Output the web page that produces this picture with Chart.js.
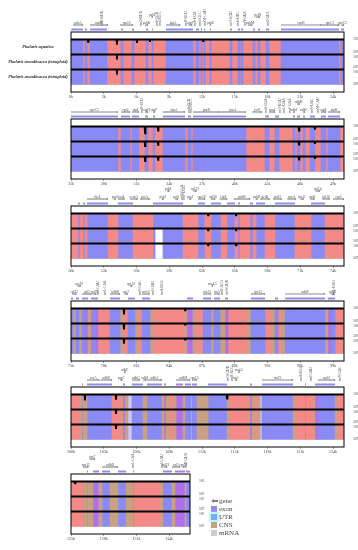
<!DOCTYPE html>
<html>
<head>
<meta charset="utf-8">
<title>mVISTA Phalaris</title>
<script src="https://cdn.jsdelivr.net/npm/chart.js@4.4.1/dist/chart.umd.min.js"></script>
<style>
  body { margin: 0; width: 358px; height: 550px; background: #fff; position: relative; overflow: hidden; }
  canvas { position: absolute; left: 0; }
  #legend { position: absolute; left: 211px; top: 497px; font: 7px 'Liberation Serif', serif; color: #444; }
  #legend .item { height: 8px; line-height: 8px; display: flex; align-items: center; }
  #legend .sw { width: 6px; height: 6px; margin-right: 2px; }
  #legend .gene { display: flex; align-items: center; width: 7px; margin-right: 1px; }
  #legend .tri { width: 0; height: 0; border-right: 3px solid #858585; border-top: 2.5px solid transparent; border-bottom: 2.5px solid transparent; }
  #legend .shaft { width: 4px; height: 2px; background: #858585; }
</style>
</head>
<body>
<canvas id="p1"></canvas>
<canvas id="p2"></canvas>
<canvas id="p3"></canvas>
<canvas id="p4"></canvas>
<canvas id="p5"></canvas>
<canvas id="p6"></canvas>
<div id="legend"></div>
<script>
// ---- data (kb) ----
const rowNames = ['Phalaris aquatica', 'Phalaris arundinacea (tetraploid)', 'Phalaris arundinacea (tetraploid)'];
const pctLabels = { 3: '100%', 2: ['50%', '100%'], 1: ['50%', '100%'], 0: '50%' };

// E exon, C CNS, T tan, P purple, L light
const p1Edges = [0, 1.10, 1.28, 1.47, 1.74, 3.30, 4.58, 4.76, 5.59, 5.77, 6.87, 7.05, 7.42, 7.51, 8.70, 11.17, 11.45, 11.72, 11.90, 12.00,
  12.18, 12.27, 12.73, 12.82, 14.56, 14.74, 15.29, 15.48, 15.57, 15.75, 16.67, 16.85, 17.12, 17.31, 17.86, 18.13, 19.23, 24.54, 24.73, 25.00];
const p1Types = 'ECECECECEC' + 'ECECECECEC' + 'ECECECECEC' + 'ECECECECE';

const p2Edges = [25, 29.30, 29.58, 30.40, 30.59, 31.23, 31.78, 32.05, 32.51, 32.69, 33.42, 35.44, 35.71, 35.99, 36.17, 41.03, 42.77,
  43.13, 43.68, 44.05, 45.33, 45.51, 45.70, 45.97, 46.25, 46.43, 46.89, 47.34, 47.89, 48.35, 48.53, 49.63, 50];
const p2Types = 'ECECECECEC' + 'ECECECECEC' + 'ECECECECEC' + 'EC';

const p3Edges = [50, 50.64, 50.82, 51.10, 51.28, 51.47, 53.39, 54.30, 55.68, 57.51, 60.26, 61.63, 62.27, 62.82, 63.74, 64.29, 65.02,
  65.29, 65.48, 66.39, 66.67, 66.94, 67.77, 68.68, 70.51, 71.98, 73.26, 75];
const p3Types = 'CECECECECE' + 'CECECECECE' + 'CECECEC';
const p3GapFrom = [57.76];
const p3GapTo = [58.36];

const p4Edges = [75.00, 75.18, 75.46, 75.73, 76.01, 76.28, 76.56, 76.83, 77.01, 77.29, 77.47, 78.57, 79.49, 79.76, 80.22, 80.86, 81.14,
  81.50, 82.23, 82.51, 85.44, 85.62, 86.17, 86.45, 87.09, 87.82, 88.10, 88.64, 89.10, 89.38, 91.21, 91.48, 92.77, 93.32, 93.68, 93.96,
  94.23, 94.60, 98.26, 98.53, 98.81, 99.18, 100.00];
const p4Types = 'ETETEPTPEP' + 'CETCETCETC' + 'TPTCETETPC' + 'TECTECTETP' + 'EC';

const p5Edges = [100, 100.73, 101.01, 101.10, 101.47, 103.75, 104.58, 104.76, 104.95, 105.22, 105.59, 106.59, 106.96, 108.33, 108.52,
  108.70, 109.07, 109.34, 109.62, 110.26, 110.44, 110.99, 111.08, 111.54, 112.55, 114.29, 114.56, 116.21, 116.39, 116.58, 116.85,
  117.03, 117.31, 117.49, 120.33, 120.60, 121.43, 121.52, 122.16, 122.34, 122.62, 124.18, 124.45, 125];
const p5Types = 'CTPTECTPTL' + 'ETETPTCTPT' + 'ELETETCTPT' + 'CTLETCPCTP' + 'ETC';

const p6Edges = [125, 126.10, 126.47, 126.56, 127.01, 127.56, 127.84, 128.57, 129.30, 130.04, 130.68, 130.77, 133.15, 133.42, 133.52,
  134.25, 134.52, 135.44, 135.53, 135.90];
const p6Types = 'CTPTPTETET' + 'PCTPETPTE';

const p1Ticks = [0, 3, 6, 9, 12, 15, 18, 21, 24];
const p2Ticks = [25, 28, 31, 34, 37, 40, 43, 46, 49];
const p3Ticks = [50, 53, 56, 59, 62, 65, 68, 71, 74];
const p4Ticks = [75, 78, 81, 84, 87, 90, 93, 96, 99];
const p5Ticks = [100, 103, 106, 109, 112, 115, 118, 121, 124];
const p6Ticks = [125, 128, 131, 134];

// curve dips: position (kb) and depth per row (fraction of row height)
const p1DipAt = [1.56, 4.21, 6.04, 7.23, 12.09];
const p1DipDepth = [[0.15, 0, 0], [0.35, 0.08, 0.08], [0.22, 0, 0], [0.15, 0, 0], [0.1, 0, 0]];
const p2DipAt = [31.78, 32.97, 45.88, 47.34];
const p2DipDepth = [[0.45, 0.3, 0.3], [0.28, 0.22, 0.22], [0.28, 0.2, 0.2], [0.2, 0.15, 0.15]];
const p3DipAt = [62.55, 65.11];
const p3DipDepth = [[0.12, 0.12, 0.12], [0.12, 0.12, 0.12]];
const p4DipAt = [79.85, 85.44];
const p4DipDepth = [[0.4, 0.4, 0.35], [0.12, 0.08, 0.08]];
const p5DipAt = [101.28, 104.12, 114.29];
const p5DipDepth = [[0.4, 0, 0], [0.35, 0.3, 0.3], [0.28, 0, 0]];
const p6DipAt = [125.37];
const p6DipDepth = [[0.12, 0, 0]];

// gene annotation
const p1GeneNames = ['psbA', 'trnK-UUU', 'matK', 'rps16', 'trnQ-UUG', 'psbK', 'psbI', 'trnS-GCU', 'trnG-UCC', 'atpA', 'trnR-UCU', 'atpF',
  'trnS-UGA', 'trnG-GCC', 'trnfM-CAU', 'psbZ', 'trnT-GGU', 'trnE-UUC', 'trnY-GUA', 'psbM', 'petN', 'trnD-GUC', 'rpoB', 'rpoC1', 'rpoC2'];
const p1GeneFrom = [0.18, 1.56, 1.74, 4.49, 6.32, 6.78, 7.35, 7.85, 8.10, 8.70, 10.50, 10.75, 11.33, 11.78, 12.24, 12.73, 14.62, 15.26,
  15.90, 16.20, 16.90, 18.01, 19.23, 22.90, 24.73];
const p1GeneTo = [1.10, 4.03, 3.39, 5.68, 6.40, 7.05, 7.50, 7.92, 8.18, 10.00, 10.56, 11.10, 11.39, 11.84, 12.30, 12.82, 14.68, 15.32,
  15.96, 16.60, 17.30, 18.07, 22.90, 24.54, 25.00];

const p2GeneNames = ['rpoC2', 'rps2', 'atpI', 'trnR-UCU', 'atpH', 'atpF', 'atpA', 'trnS-GCU', 'trnG-UCC', 'psaB', 'psaA', 'ycf3',
  'trnS-GGA', 'rps4', 'trnT-UGU', 'trnL-UAA', 'trnF-GAA', 'ndhJ', 'ndhK', 'ndhC', 'trnV-UAC', 'trnM-CAU', 'atpE', 'atpB'];
const p2GeneFrom = [25.0, 29.58, 30.59, 31.45, 31.78, 32.51, 33.42, 35.75, 35.95, 36.17, 38.60, 41.60, 42.80, 43.13, 44.10, 44.50, 45.05,
  45.33, 45.70, 46.25, 47.00, 47.60, 47.89, 48.53];
const p2GeneTo = [29.30, 30.40, 31.23, 31.50, 32.05, 32.69, 35.44, 35.80, 36.00, 38.60, 41.03, 42.50, 42.85, 43.68, 44.15, 44.55, 45.10,
  45.51, 45.97, 46.43, 47.05, 47.65, 48.35, 49.63];

const p3GeneNames = ['rbcL', 'psaI', 'ycf4', 'cemA', 'petA', 'psbJ', 'psbE', 'petL', 'trnW-CCA', 'trnP-UGG', 'psaJ', 'rpl33', 'rps18',
  'rpl20', 'clpP', 'psbB', 'psbH', 'petB', 'petD', 'rpoA', 'rps11', 'rps8', 'rpl14', 'rpl16', 'rps3'];
const p3GeneFrom = [51.47, 53.90, 54.30, 55.40, 56.30, 58.30, 58.80, 59.50, 60.10, 60.35, 60.80, 61.20, 61.63, 62.82, 63.60, 64.90,
  66.90, 67.30, 68.50, 69.80, 71.00, 71.90, 72.40, 73.00, 74.00];
const p3GeneTo = [53.39, 54.10, 54.90, 56.10, 57.20, 58.50, 59.00, 59.80, 60.15, 60.40, 61.00, 61.50, 62.27, 63.20, 64.30, 66.40,
  67.10, 68.20, 69.30, 70.60, 71.30, 72.30, 72.80, 73.70, 75.00];

const p4GeneNames = ['rpl22', 'rps19', 'rpl2', 'rpl23', 'trnI-CAU', 'trnL-CAA', 'ndhB', 'rps7', 'rps12', 'trnV-GAC', 'rrn16',
  'trnI-GAU', 'trnA-UGC', 'rrn23', 'rrn4.5', 'rrn5', 'trnR-ACG', 'trnN-GUU', 'rps15', 'ndhF', 'rpl32', 'trnL-UAG'];
const p4GeneFrom = [75.10, 75.60, 76.00, 77.00, 77.40, 78.10, 78.57, 79.90, 80.40, 81.30, 81.50, 82.50, 83.30, 87.09, 87.90, 88.10,
  88.80, 89.20, 91.48, 94.60, 98.81, 99.00];
const p4GeneTo = [75.50, 75.90, 76.90, 77.30, 77.45, 78.15, 79.49, 80.20, 80.60, 81.35, 82.20, 82.55, 83.35, 87.82, 88.00, 88.60,
  88.85, 89.25, 92.77, 98.26, 99.10, 99.05];

const p5GeneNames = ['ccsA', 'ndhD', 'psaC', 'ndhE', 'ndhG', 'ndhI', 'ndhA', 'ndhH', 'rps15', 'trnN-GUU', 'trnR-ACG', 'rrn5',
  'rrn4.5', 'rrn23', 'trnA-UGC', 'trnI-GAU', 'rrn16', 'trnV-GAC'];
const p5GeneFrom = [101.47, 102.70, 104.50, 104.85, 105.59, 106.60, 106.96, 109.62, 111.08, 114.30, 114.70, 115.00, 115.30, 117.49,
  121.00, 121.90, 122.62, 124.60];
const p5GeneTo = [102.60, 103.75, 104.70, 105.00, 106.30, 106.90, 108.33, 110.90, 111.54, 114.35, 114.75, 115.20, 115.45, 120.33,
  121.05, 121.95, 124.18, 124.65];

const p6GeneNames = ['rps12', 'rps7', 'ndhB', 'trnL-CAA', 'trnI-CAU', 'rpl23', 'rpl2', 'rps19', 'trnH-GUG'];
const p6GeneFrom = [126.10, 126.70, 127.84, 130.68, 133.30, 133.52, 134.25, 135.20, 135.50];
const p6GeneTo = [126.60, 127.20, 129.30, 130.73, 133.35, 133.80, 135.00, 135.40, 135.55];

const legendNames = ['gene', 'exon', 'UTR', 'CNS', 'mRNA'];

// ---- styles ----
const COLORS = { E: '#8a8af4', C: '#f48a88', T: '#c8a183', P: '#b070ec', L: '#cacaf4' };
const STRIP = { E: '#8e8ef2', P: '#b27aee' };
const LEGEND_COLORS = { exon: '#908cf0', UTR: '#7ea8f8', CNS: '#c4a284', mRNA: '#cdcdcd' };
const ROW_Y = [2.5, 1.5, 0.5];
const SERIF = '"Liberation Serif", serif';

const panels = [
  { id: 'p1', rowsTop: 32, right: 344, min: 0, max: 25, edges: p1Edges, types: p1Types, ticks: p1Ticks,
    genes: [p1GeneNames, p1GeneFrom, p1GeneTo], dipAt: p1DipAt, dipDepth: p1DipDepth, names: true },
  { id: 'p2', rowsTop: 119, right: 344, min: 25, max: 50, edges: p2Edges, types: p2Types, ticks: p2Ticks,
    genes: [p2GeneNames, p2GeneFrom, p2GeneTo], dipAt: p2DipAt, dipDepth: p2DipDepth },
  { id: 'p3', rowsTop: 206, right: 344, min: 50, max: 75, edges: p3Edges, types: p3Types, ticks: p3Ticks,
    genes: [p3GeneNames, p3GeneFrom, p3GeneTo], dipAt: p3DipAt, dipDepth: p3DipDepth, gaps: [p3GapFrom, p3GapTo] },
  { id: 'p4', rowsTop: 301, right: 344, min: 75, max: 100, edges: p4Edges, types: p4Types, ticks: p4Ticks,
    genes: [p4GeneNames, p4GeneFrom, p4GeneTo], dipAt: p4DipAt, dipDepth: p4DipDepth },
  { id: 'p5', rowsTop: 387, right: 344, min: 100, max: 125, edges: p5Edges, types: p5Types, ticks: p5Ticks,
    genes: [p5GeneNames, p5GeneFrom, p5GeneTo], dipAt: p5DipAt, dipDepth: p5DipDepth },
  { id: 'p6', rowsTop: 474, right: 190, min: 125, max: 135.9, edges: p6Edges, types: p6Types, ticks: p6Ticks,
    genes: [p6GeneNames, p6GeneFrom, p6GeneTo], dipAt: p6DipAt, dipDepth: p6DipDepth }
];

function buildDatasets(p) {
  const sets = [];
  // identity curves, one per row, drawn on top
  ROW_Y.forEach((yc, r) => {
    const top = yc + 0.5;
    const pts = [{ x: p.min, y: top }];
    p.dipAt.forEach((d, i) => {
      const dep = p.dipDepth[i][r];
      if (dep > 0) pts.push({ x: d - 0.04, y: top }, { x: d, y: top - dep }, { x: d + 0.04, y: top });
    });
    pts.push({ x: p.max, y: top });
    sets.push({ type: 'line', data: pts, xAxisID: 'x', yAxisID: 'yRows', borderColor: '#000', borderWidth: 1.8,
      pointRadius: 0, tension: 0, order: 0 });
  });
  // gaps (no alignment) in rows 2 and 3
  if (p.gaps) {
    const data = [];
    p.gaps[0].forEach((s, i) => [1.5, 0.5].forEach(yc => data.push({ x: [s, p.gaps[1][i]], y: yc })));
    sets.push({ type: 'bar', indexAxis: 'y', xAxisID: 'x', yAxisID: 'yRows', data, backgroundColor: '#ffffff',
      grouped: false, barPercentage: 1, categoryPercentage: 1, order: 1 });
  }
  // conservation bands
  const byType = {};
  const strip = {};
  for (let i = 0; i < p.types.length; i++) {
    const t = p.types[i];
    const seg = [p.edges[i], p.edges[i + 1]];
    (byType[t] = byType[t] || []).push(...ROW_Y.map(yc => ({ x: seg, y: yc })));
    if (STRIP[t]) (strip[t] = strip[t] || []).push({ x: seg, y: 0.5 });
  }
  Object.keys(byType).forEach(t => {
    sets.push({ type: 'bar', indexAxis: 'y', xAxisID: 'x', yAxisID: 'yRows', data: byType[t], backgroundColor: COLORS[t],
      grouped: false, barPercentage: 1, categoryPercentage: 1, order: 2 });
  });
  Object.keys(strip).forEach(t => {
    sets.push({ type: 'bar', indexAxis: 'y', xAxisID: 'x', yAxisID: 'yGene', data: strip[t], backgroundColor: STRIP[t],
      grouped: false, barPercentage: 0.8, categoryPercentage: 1, order: 2 });
  });
  return sets;
}

function drawGenes(chart, genes) {
  const { ctx } = chart;
  const x = chart.scales.x;
  const top = chart.scales.yRows.top;
  const [names, from, to] = genes;
  ctx.save();
  ctx.font = '3.5px ' + SERIF;
  ctx.fillStyle = '#4a4a4a';
  ctx.strokeStyle = '#8c8c8c';
  ctx.lineWidth = 1.2;
  const lastEnd = [-Infinity, -Infinity];
  names.forEach((n, i) => {
    const a = x.getPixelForValue(from[i]);
    const b = x.getPixelForValue(to[i]);
    const m = (a + b) / 2;
    if (n.startsWith('trn')) {
      ctx.save();
      ctx.translate(m + 1.2, top - 6);
      ctx.rotate(-Math.PI / 2);
      ctx.textAlign = 'left';
      ctx.fillText(n, 0, 0);
      ctx.restore();
      return;
    }
    const w = ctx.measureText(n).width;
    const lv = (m - w / 2 > lastEnd[0] + 0.5) ? 0 : 1;
    lastEnd[lv] = m + w / 2;
    const yl = top - 7 - lv * 8;
    ctx.beginPath();
    ctx.moveTo(a, yl);
    ctx.lineTo(b, yl);
    ctx.stroke();
    ctx.fillStyle = '#8c8c8c';
    ctx.beginPath();
    ctx.moveTo(b + 0.5, yl);
    ctx.lineTo(b - 1.2, yl - 1.2);
    ctx.lineTo(b - 1.2, yl + 1.2);
    ctx.fill();
    ctx.fillStyle = '#4a4a4a';
    ctx.textAlign = 'center';
    ctx.fillText(n, m, yl - 1.5);
  });
  ctx.restore();
}

function makePanel(p) {
  const canvas = document.getElementById(p.id);
  canvas.width = p.right + 14;
  canvas.height = 102;
  canvas.style.top = (p.rowsTop - 32) + 'px';

  const decor = {
    id: 'decor',
    afterDatasetsDraw(chart) {
      const { ctx, scales: { x, yRows } } = chart;
      ctx.save();
      ctx.strokeStyle = '#000';
      ctx.lineWidth = 1;
      ctx.strokeRect(x.left, yRows.top, x.right - x.left, yRows.bottom - yRows.top);
      ctx.restore();
    },
    afterDraw(chart) {
      drawGenes(chart, p.genes);
      if (p.names) {
        const { ctx, scales: { yRows } } = chart;
        ctx.save();
        ctx.font = 'italic bold 4.3px ' + SERIF;
        ctx.fillStyle = '#1a1a1a';
        ctx.textAlign = 'center';
        ctx.textBaseline = 'middle';
        rowNames.forEach((n, i) => ctx.fillText(n, 38, yRows.getPixelForValue(ROW_Y[i])));
        ctx.restore();
      }
    }
  };

  new Chart(canvas, {
    type: 'bar',
    data: { datasets: buildDatasets(p) },
    options: {
      responsive: false,
      animation: false,
      devicePixelRatio: 1,
      layout: { padding: { left: 71, top: 27, right: 0, bottom: 0 } },
      plugins: { legend: { display: false }, tooltip: { enabled: false } },
      scales: {
        x: {
          type: 'linear', position: 'bottom', min: p.min, max: p.max, offset: false,
          afterBuildTicks: s => { s.ticks = p.ticks.map(v => ({ value: v })); },
          afterFit: s => { s.height = 10; },
          ticks: { font: { family: SERIF, size: 4 }, color: '#444', padding: 1, maxRotation: 0, autoSkip: false,
            callback: v => v + 'k' },
          grid: { display: true, drawOnChartArea: false, drawTicks: true, tickLength: 2, color: '#555', lineWidth: 0.5, offset: false },
          border: { display: false }
        },
        yGene: {
          type: 'linear', position: 'right', stack: 'v', stackWeight: 5, min: 0, max: 1,
          afterBuildTicks: s => { s.ticks = [{ value: 0 }, { value: 1 }]; },
          afterFit: s => { s.width = 14; },
          ticks: { display: false }, grid: { display: false }, border: { display: false }
        },
        yRows: {
          type: 'linear', position: 'right', stack: 'v', stackWeight: 60, min: 0, max: 3,
          afterBuildTicks: s => { s.ticks = [0, 1, 2, 3].map(v => ({ value: v })); },
          afterFit: s => { s.width = 14; },
          ticks: { font: { family: SERIF, size: 3.8 }, color: '#444', padding: 1, autoSkip: false,
            callback: v => pctLabels[v] },
          grid: { display: false }, border: { display: false }
        }
      }
    },
    plugins: [decor]
  });
}

panels.forEach(makePanel);

// legend
const legend = document.getElementById('legend');
legendNames.forEach(n => {
  const item = document.createElement('div');
  item.className = 'item';
  if (n === 'gene') {
    item.innerHTML = '<span class="gene"><span class="tri"></span><span class="shaft"></span></span>';
  } else {
    const sw = document.createElement('span');
    sw.className = 'sw';
    sw.style.background = LEGEND_COLORS[n];
    if (n === 'UTR') sw.style.boxShadow = '0 0 1px 2px #bff8f8';
    item.appendChild(sw);
  }
  const t = document.createElement('span');
  t.textContent = n;
  item.appendChild(t);
  legend.appendChild(item);
});
</script>
</body>
</html>
